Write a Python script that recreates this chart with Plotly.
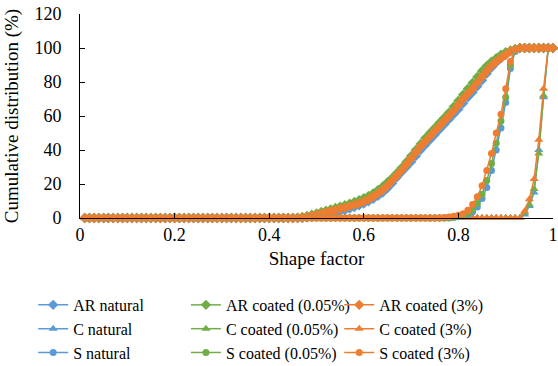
import plotly.graph_objects as go

# Shape factor grid (x categories)
shape_factor = [round(0.01 * i, 2) for i in range(1, 101)]

# Rising portions of each cumulative curve (values in %)
AR_start = 0.45  # AR curves rise from 0.45 to 0.93
AR_natural = [0, 0, 0, 0.3, 0.7, 1.1, 1.6, 2.1, 2.7, 3.3, 4, 4.7, 5.5, 6.4, 7.4, 8.5, 9.8, 11.3, 13, 15,
              17.5, 20.5, 24, 27, 30, 33, 36.5, 40, 43, 46, 49, 52, 55, 58, 61, 64, 67.5, 71, 74, 77.5,
              81, 85, 88.5, 91.5, 94, 96, 98, 99, 100]
AR_coated_005 = [0, 0.2, 0.6, 1.2, 1.9, 2.7, 3.5, 4.3, 5.1, 5.9, 6.7, 7.5, 8.4, 9.4, 10.5, 11.7, 13, 14.5,
                 16.5, 18.5, 21, 23.5, 26.5, 29.5, 33, 36.5, 40, 43.5, 47, 50, 53, 56, 59, 62, 65.5, 69,
                 72.5, 76, 79.5, 83, 86.5, 89.5, 92, 94, 96, 97.5, 98.5, 99.5, 100]
AR_coated_3 = [0, 0, 0.3, 0.7, 1.2, 1.8, 2.5, 3.2, 4.0, 4.7, 5.4, 6.1, 6.9, 7.7, 8.6, 9.6, 11, 12.5, 14.5,
               16.5, 19, 22, 25, 28, 31.5, 35, 38.5, 42, 45, 48, 51, 54, 57, 60, 63, 66.5, 70, 73, 76,
               79.5, 83, 86.5, 89.5, 92, 94, 96, 98, 99, 100]

C_start = 0.93  # C curves rise from 0.93 to 1.00
C_natural = [0, 2, 7, 15, 40, 71, 100, 100]
C_coated_005 = [0, 3, 8, 17, 38, 72, 100, 100]
C_coated_3 = [0, 4, 11, 23, 46, 76, 100, 100]

S_start = 0.76  # S curves rise from 0.76 to 0.93
S_natural = [0, 0, 0, 0.3, 0.7, 1.2, 2, 3.7, 6.5, 11.5, 18, 28, 40, 53, 68, 88, 98, 100]
S_coated_005 = [0, 0, 0.2, 0.5, 1, 1.6, 2.8, 5, 8.5, 14, 22, 32, 44, 57, 71, 90, 98.5, 100]
S_coated_3 = [0, 0.3, 0.6, 1, 1.6, 2.5, 4.5, 8, 12.5, 19, 28, 38, 50, 61, 76, 92, 99, 100]

x_ticks = [0, 0.2, 0.4, 0.6, 0.8, 1]
x_tick_labels = ["0", "0.2", "0.4", "0.6", "0.8", "1"]
y_ticks = [0, 20, 40, 60, 80, 100, 120]

BLUE = "#5B9BD5"
GREEN = "#70AD47"
ORANGE = "#ED7D31"
FONT = "Liberation Serif"


def full_series(start, rise):
    """Zeros before the rise, the read values, then 100 % after."""
    out = []
    i0 = round(start * 100) - 1
    for i, _ in enumerate(shape_factor):
        if i < i0:
            out.append(0)
        elif i < i0 + len(rise):
            out.append(rise[i - i0])
        else:
            out.append(100)
    return out


# name, start, values, colour, symbol, size, legend column
series = [
    ("AR natural", AR_start, AR_natural, BLUE, "diamond", 8, "legend"),
    ("AR coated (0.05%)", AR_start, AR_coated_005, GREEN, "diamond", 8, "legend2"),
    ("AR coated (3%)", AR_start, AR_coated_3, ORANGE, "diamond", 8, "legend3"),
    ("C natural", C_start, C_natural, BLUE, "triangle-up", 8, "legend"),
    ("C coated (0.05%)", C_start, C_coated_005, GREEN, "triangle-up", 8, "legend2"),
    ("C coated (3%)", C_start, C_coated_3, ORANGE, "triangle-up", 8, "legend3"),
    ("S natural", S_start, S_natural, BLUE, "circle", 7, "legend"),
    ("S coated (0.05%)", S_start, S_coated_005, GREEN, "circle", 7, "legend2"),
    ("S coated (3%)", S_start, S_coated_3, ORANGE, "circle", 7, "legend3"),
]

fig = go.Figure()
for name, start, rise, color, symbol, size, leg in series:
    fig.add_trace(go.Scatter(
        x=shape_factor, y=full_series(start, rise), name=name, mode="lines+markers",
        line=dict(color=color, width=1.5),
        marker=dict(color=color, symbol=symbol, size=size, line=dict(width=0)),
        cliponaxis=False, legend=leg,
    ))

legend_common = dict(
    orientation="v", xanchor="left", y=-0.343, yanchor="top", itemwidth=30,
    font=dict(family=FONT, size=16, color="black"), bgcolor="rgba(0,0,0,0)",
)

fig.update_layout(
    width=558, height=366,
    margin=dict(l=80, r=5, t=14, b=148, autoexpand=False),
    paper_bgcolor="white", plot_bgcolor="white",
    font=dict(family=FONT, size=18, color="black"),
    showlegend=True,
    legend=dict(x=-0.099, **legend_common),
    legend2=dict(x=0.224, **legend_common),
    legend3=dict(x=0.548, **legend_common),
    xaxis=dict(
        range=[0, 1], tickvals=x_ticks, ticktext=x_tick_labels,
        showgrid=False, zeroline=False, showline=True, linecolor="black", linewidth=1,
        ticks="inside", ticklen=5, tickcolor="black",
        tickfont=dict(family=FONT, size=18),
        title=dict(text="Shape factor", font=dict(family=FONT, size=19), standoff=8),
    ),
    yaxis=dict(
        range=[0, 120], tickvals=y_ticks,
        showgrid=False, zeroline=False, showline=True, linecolor="black", linewidth=1,
        ticks="inside", ticklen=5, tickcolor="black", ticklabelstandoff=14,
        tickfont=dict(family=FONT, size=18),
        title=dict(text="Cumulative distribution (%)", font=dict(family=FONT, size=19), standoff=10),
    ),
)

fig.write_html("out.html")
